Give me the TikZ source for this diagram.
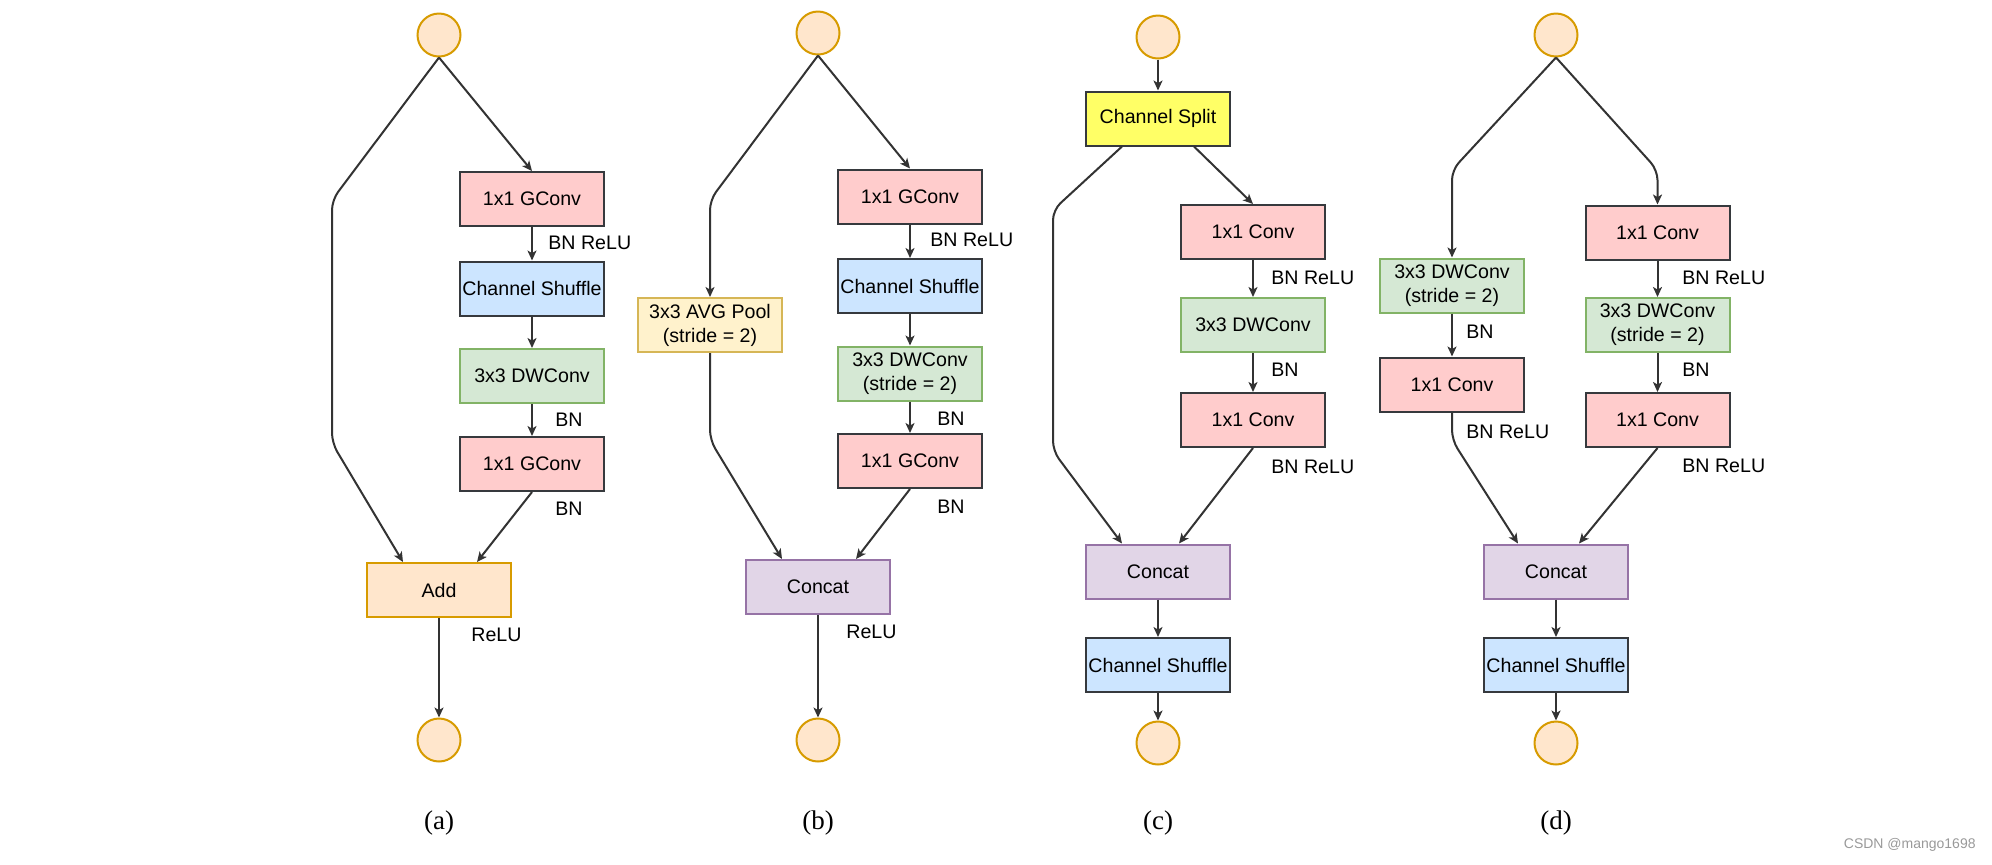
\documentclass[tikz,border=0pt]{standalone}
\usepackage{fontspec}
\setmainfont{Liberation Sans}
\newfontfamily\capfont{Liberation Serif}
\usetikzlibrary{arrows.meta}

\definecolor{boxline}{HTML}{36393D}
\definecolor{pinkfill}{HTML}{FFCCCC}
\definecolor{bluefill}{HTML}{CCE5FF}
\definecolor{greenfill}{HTML}{D5E8D4}
\definecolor{greenline}{HTML}{82B366}
\definecolor{orangefill}{HTML}{FFE6CC}
\definecolor{orangeline}{HTML}{D79B00}
\definecolor{yellowfill}{HTML}{FFF2CC}
\definecolor{yellowline}{HTML}{D6B656}
\definecolor{purplefill}{HTML}{E1D5E7}
\definecolor{purpleline}{HTML}{9673A6}
\definecolor{splitfill}{HTML}{FFFF66}
\definecolor{wire}{HTML}{333333}

\tikzset{
  blk/.style={draw=boxline, line width=1pt, minimum width=72pt, minimum height=27pt,
    inner sep=1pt, align=center, font=\fontsize{9.8}{12}\selectfont},
  convbox/.style={blk, fill=pinkfill},
  shufbox/.style={blk, fill=bluefill},
  dwbox/.style={blk, fill=greenfill, draw=greenline},
  poolbox/.style={blk, fill=yellowfill, draw=yellowline},
  addbox/.style={blk, fill=orangefill, draw=orangeline},
  catbox/.style={blk, fill=purplefill, draw=purpleline},
  splitbox/.style={blk, fill=splitfill},
  io/.style={circle, draw=orangeline, fill=orangefill, line width=1pt, minimum size=21.5pt, inner sep=0pt},
  lbl/.style={anchor=west, inner sep=0pt, font=\fontsize{9.8}{12}\selectfont},
  subcap/.style={inner sep=0pt, font=\capfont\fontsize{13.5}{15}\selectfont},
  arr/.style={draw=wire, line width=1pt, rounded corners=5pt,
    -{Stealth[length=5pt,width=4.5pt,inset=1.3pt]}}
}

\begin{document}
\begin{tikzpicture}[x=0.5pt,y=0.5pt,yscale=-1,xscale=1]
    \useasboundingbox (0,0) rectangle (1992,864);

    % ---- (a) ----
    \node[io] (ain) at (439,35) {};
    \node[convbox] (ag1) at (532,199) {1x1 GConv};
    \node[shufbox] (ash) at (532,288.5) {Channel Shuffle};
    \node[dwbox] (adw) at (532,376) {3x3 DWConv};
    \node[convbox] (ag2) at (532,464) {1x1 GConv};
    \node[addbox] (aadd) at (439,590) {Add};
    \node[io] (aout) at (439,740) {};
    % Text Node
    \node[lbl] (alb1) at (548,243) {BN ReLU};
    \node[lbl] (alb2) at (555,420) {BN};
    \node[lbl] (alb3) at (555,509) {BN};
    \node[lbl] (alb4) at (471,635) {ReLU};
    \node[subcap] (acap) at (439,823) {(a)};

    \draw[arr] (ain.south) -- (ag1.north);
    \draw[arr] (ag1) -- (ash);
    \draw[arr] (ash) -- (adw);
    \draw[arr] (adw) -- (ag2);
    \draw[arr] (ain.south) -- (332,200) -- (332,443) -- ([xshift=-18pt]aadd.north);
    \draw[arr] (ag2.south) -- ([xshift=19pt]aadd.north);
    \draw[arr] (aadd) -- (aout);

    % ---- (b) ----
    \node[io] (bin) at (818,33) {};
    \node[convbox] (bg1) at (910,196.5) {1x1 GConv};
    \node[shufbox] (bsh) at (910,286) {Channel Shuffle};
    \node[dwbox] (bdw) at (910,373.5) {3x3 DWConv\\(stride = 2)};
    \node[convbox] (bg2) at (910,461) {1x1 GConv};
    \node[poolbox] (bpool) at (710,325) {3x3 AVG Pool\\(stride = 2)};
    \node[catbox] (bcat) at (818,587) {Concat};
    \node[io] (bout) at (818,740) {};
    % Text Node
    \node[lbl] (blb1) at (930,240) {BN ReLU};
    \node[lbl] (blb2) at (937,419) {BN};
    \node[lbl] (blb3) at (937,507) {BN};
    \node[lbl] (blb4) at (846,632) {ReLU};
    \node[subcap] (bcap) at (818,823) {(b)};

    \draw[arr] (bin.south) -- (bg1.north);
    \draw[arr] (bg1) -- (bsh);
    \draw[arr] (bsh) -- (bdw);
    \draw[arr] (bdw) -- (bg2);
    \draw[arr] (bin.south) -- (710,200) -- (bpool.north);
    \draw[arr] (bpool.south) -- (710,440) -- ([xshift=-18pt]bcat.north);
    \draw[arr] (bg2.south) -- ([xshift=19pt]bcat.north);
    \draw[arr] (bcat) -- (bout);

    % ---- (c) ----
    \node[io] (cin) at (1158,37) {};
    \node[splitbox] (csplit) at (1158,118.5) {Channel Split};
    \node[convbox] (cc1) at (1253,232) {1x1 Conv};
    \node[dwbox] (cdw) at (1253,325) {3x3 DWConv};
    \node[convbox] (cc2) at (1253,420) {1x1 Conv};
    \node[catbox] (ccat) at (1158,571.5) {Concat};
    \node[shufbox] (csh) at (1158,665) {Channel Shuffle};
    \node[io] (cout) at (1158,743) {};
    % Text Node
    \node[lbl] (clb1) at (1271,278) {BN ReLU};
    \node[lbl] (clb2) at (1271,370) {BN};
    \node[lbl] (clb3) at (1271,467) {BN ReLU};
    \node[subcap] (ccap) at (1158,823) {(c)};

    \draw[arr] (cin) -- (csplit);
    \draw[arr] ([xshift=18pt]csplit.south) -- (cc1.north);
    \draw[arr] (cc1) -- (cdw);
    \draw[arr] (cdw) -- (cc2);
    \draw[arr] ([xshift=-18pt]csplit.south) -- (1053,210) -- (1053,451) -- ([xshift=-18pt]ccat.north);
    \draw[arr] (cc2.south) -- ([xshift=10.5pt]ccat.north);
    \draw[arr] (ccat) -- (csh);
    \draw[arr] (csh) -- (cout);

    % ---- (d) ----
    \node[io] (din) at (1556,35) {};
    \node[dwbox] (ddw) at (1452,285.5) {3x3 DWConv\\(stride = 2)};
    \node[convbox] (dc1) at (1452,384.5) {1x1 Conv};
    \node[convbox] (dr1) at (1657.5,232.5) {1x1 Conv};
    \node[dwbox] (ddw2) at (1657.5,325) {3x3 DWConv\\(stride = 2)};
    \node[convbox] (dr2) at (1657.5,420) {1x1 Conv};
    \node[catbox] (dcat) at (1556,571.5) {Concat};
    \node[shufbox] (dsh) at (1556,665) {Channel Shuffle};
    \node[io] (dout) at (1556,743) {};
    % Text Node
    \node[lbl] (dlb1) at (1466,332) {BN};
    \node[lbl] (dlb2) at (1466,432) {BN ReLU};
    \node[lbl] (dlb3) at (1682,278) {BN ReLU};
    \node[lbl] (dlb4) at (1682,370) {BN};
    \node[lbl] (dlb5) at (1682,466) {BN ReLU};
    \node[subcap] (dcap) at (1556,823) {(d)};

    \draw[arr] (din.south) -- (1452,170) -- (ddw.north);
    \draw[arr] (din.south) -- (1657.5,170) -- (dr1.north);
    \draw[arr] (ddw) -- (dc1);
    \draw[arr] (dr1) -- (ddw2);
    \draw[arr] (ddw2) -- (dr2);
    \draw[arr] (dc1.south) -- (1452,440) -- ([xshift=-19pt]dcat.north);
    \draw[arr] (dr2.south) -- ([xshift=11.5pt]dcat.north);
    \draw[arr] (dcat) -- (dsh);
    \draw[arr] (dsh) -- (dout);

    % watermark
    \node[anchor=east, inner sep=0pt, text=black!40, font=\fontsize{7}{8}\selectfont] (mark) at (1976,845) {CSDN @mango1698};

\end{tikzpicture}
\end{document}
